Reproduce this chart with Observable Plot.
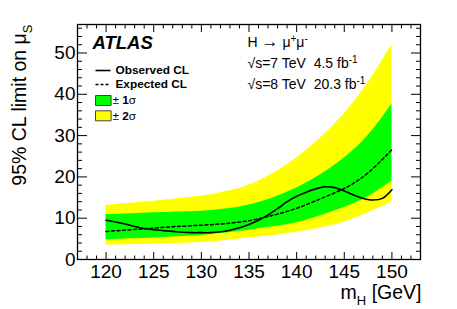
<!DOCTYPE html>
<html><head><meta charset="utf-8">
<script src="https://cdn.jsdelivr.net/npm/d3@7"></script>
<script src="https://cdn.jsdelivr.net/npm/@observablehq/plot@0.6"></script>
<style>body{margin:0;background:#fff} svg{display:block}</style>
</head><body><div id="chart"></div>
<script>
// Band mass points (GeV) and limits
const massBand = [120, 122.5, 125, 127.5, 130, 132.5, 135, 137.5, 140, 142.5, 145, 147.5, 150];
const expected = [6.8, 7.2, 7.6, 8.0, 8.3, 8.7, 9.4, 10.7, 12.4, 14.7, 17.2, 21.0, 26.6];
const plus1    = [10.9, 11.1, 11.3, 11.5, 11.7, 12.2, 13.2, 14.9, 17.3, 20.5, 24.6, 30.0, 37.6];
const minus1   = [4.8, 5.0, 5.2, 5.5, 5.8, 6.4, 7.1, 7.9, 8.9, 10.6, 12.6, 15.2, 19.0];
const plus2    = [13.1, 13.6, 14.1, 14.7, 15.3, 16.4, 18.0, 20.8, 24.6, 29.4, 35.3, 42.8, 52.0];
const minus2   = [3.5, 3.6, 3.7, 3.9, 4.1, 4.6, 5.2, 5.8, 6.6, 7.6, 9.1, 11.3, 14.0];

// Observed limit
const massObs  = [120,121,122,123,124,125,126,127,128,129,130,131,132,133,134,135,136,137,138,139,140,141,142,143,144,145,146,147,148,149,150];
const observed = [9.5, 9.1, 8.6, 8.0, 7.5, 7.2, 7.0, 6.8, 6.6, 6.5, 6.5, 6.5, 6.7, 7.1, 7.7, 8.5, 9.5, 10.8, 12.3, 14.0, 15.3, 16.3, 17.1, 17.6, 17.4, 16.6, 15.6, 14.8, 14.4, 14.8, 16.9];

// Axis ticks
const xMajor = [120, 125, 130, 135, 140, 145, 150];
const xMinor = [117,118,119,121,122,123,124,126,127,128,129,131,132,133,134,136,137,138,139,141,142,143,144,146,147,148,149,151,152,153];
const yMajor = [0, 10, 20, 30, 40, 50];
const yMinor = [2,4,6,8,12,14,16,18,22,24,26,28,32,34,36,38,42,44,46,48,52,54,56];

// Texts
const yTitle = "95% CL limit on μS";
const xTitle = "mH [GeV]";
const atlas = "ATLAS";
const legendLines = ["Observed CL", "Expected CL"];
const legendBoxes = ["± 1σ", "± 2σ"];
const info = ["H → μ+μ-", "√s=7 TeV\u00a0\u00a04.5 fb-1", "√s=8 TeV\u00a0\u00a020.3 fb-1"];

const bands = massBand.map((m, i) => ({m, exp: expected[i], lo1: minus1[i], hi1: plus1[i], lo2: minus2[i], hi2: plus2[i]}));
const obsData = massObs.map((m, i) => ({m, v: observed[i]}));

const font = "'Liberation Sans', Arial, Helvetica, sans-serif";
const lineSym = {draw(ctx) { ctx.moveTo(-7.5, 0); ctx.lineTo(7.5, 0); }};
const boxSym = {draw(ctx) { ctx.rect(-7.8, -5, 15.6, 10); }};
const noText = () => "";

const plot = Plot.plot({
  width: 457, height: 309,
  marginLeft: 77, marginRight: 37, marginTop: 24, marginBottom: 50,
  style: {fontFamily: font, background: "#fff", color: "#000"},
  x: {domain: [117, 153], label: null},
  y: {domain: [0, 56.9], label: null},
  marks: [
    Plot.areaY(bands, {x: "m", y1: "lo2", y2: "hi2", fill: "#ffff00", curve: "natural"}),
    Plot.areaY(bands, {x: "m", y1: "lo1", y2: "hi1", fill: "#00ff00", curve: "natural"}),
    Plot.line(bands, {x: "m", y: "exp", stroke: "#000", strokeWidth: 1.5, strokeDasharray: "3,2.5", curve: "natural"}),
    Plot.line(obsData, {x: "m", y: "v", stroke: "#000", strokeWidth: 1.6, curve: "catmull-rom"}),
    // inward ticks
    Plot.axisX({anchor: "bottom", ticks: xMajor, tickSize: -7, tickFormat: noText, label: null}),
    Plot.axisX({anchor: "bottom", ticks: xMinor, tickSize: -3.5, tickFormat: noText, label: null}),
    Plot.axisX({anchor: "top", ticks: xMajor, tickSize: -7, tickFormat: noText, label: null}),
    Plot.axisX({anchor: "top", ticks: xMinor, tickSize: -3.5, tickFormat: noText, label: null}),
    Plot.axisY({anchor: "left", ticks: yMajor, tickSize: -10, tickFormat: noText, label: null}),
    Plot.axisY({anchor: "left", ticks: yMinor, tickSize: -5, tickFormat: noText, label: null}),
    Plot.axisY({anchor: "right", ticks: yMajor, tickSize: -10, tickFormat: noText, label: null}),
    Plot.axisY({anchor: "right", ticks: yMinor, tickSize: -5, tickFormat: noText, label: null}),
    // tick labels
    Plot.axisX({anchor: "bottom", ticks: xMajor, tickSize: 0, tickPadding: 5, fontSize: 19, label: null, tickFormat: d => String(d)}),
    Plot.axisY({anchor: "left", ticks: yMajor, tickSize: 0, tickPadding: 2, fontSize: 19, label: null, tickFormat: d => String(d)}),
    Plot.frame({stroke: "#000", strokeWidth: 1.3}),
    // titles
    Plot.text([yTitle], {frameAnchor: "top-left", rotate: -90, textAnchor: "end", lineAnchor: "bottom", dx: -52, dy: 0, fontSize: 19.5}),
    Plot.text([xTitle], {frameAnchor: "bottom-right", textAnchor: "end", lineAnchor: "bottom", dx: 1, dy: 39, fontSize: 19.5}),
    // ATLAS label
    Plot.text([atlas], {frameAnchor: "top-left", textAnchor: "start", lineAnchor: "bottom", dx: 15, dy: 24, fontSize: 18.5, fontWeight: "bold", fontStyle: "italic"}),
    // legend
    Plot.dot([0], {frameAnchor: "top-left", dx: 25.5, dy: 46, symbol: lineSym, fill: "none", stroke: "#000", strokeWidth: 1.6}),
    Plot.dot([0], {frameAnchor: "top-left", dx: 25.5, dy: 60, symbol: lineSym, fill: "none", stroke: "#000", strokeWidth: 1.5, strokeDasharray: "3,2"}),
    Plot.dot([0], {frameAnchor: "top-left", dx: 25.8, dy: 76, symbol: boxSym, fill: "#00ff00", stroke: "#444", strokeWidth: 1}),
    Plot.dot([0], {frameAnchor: "top-left", dx: 25.8, dy: 91.3, symbol: boxSym, fill: "#ffff00", stroke: "#444", strokeWidth: 1}),
    Plot.text([legendLines[0]], {frameAnchor: "top-left", textAnchor: "start", lineAnchor: "middle", dx: 38, dy: 46, fontSize: 11.8, fontWeight: "bold"}),
    Plot.text([legendLines[1]], {frameAnchor: "top-left", textAnchor: "start", lineAnchor: "middle", dx: 38, dy: 60, fontSize: 11.8, fontWeight: "bold"}),
    Plot.text([legendBoxes[0]], {frameAnchor: "top-left", textAnchor: "start", lineAnchor: "middle", dx: 35, dy: 76, fontSize: 11.8}),
    Plot.text([legendBoxes[1]], {frameAnchor: "top-left", textAnchor: "start", lineAnchor: "middle", dx: 35, dy: 91.3, fontSize: 11.8}),
    // info text
    Plot.text([info[0]], {frameAnchor: "top-left", textAnchor: "start", lineAnchor: "bottom", dx: 170, dy: 22, fontSize: 14}),
    Plot.text([info[1]], {frameAnchor: "top-left", textAnchor: "start", lineAnchor: "bottom", dx: 170, dy: 43, fontSize: 14}),
    Plot.text([info[2]], {frameAnchor: "top-left", textAnchor: "start", lineAnchor: "bottom", dx: 170, dy: 64, fontSize: 14})
  ]
});
document.getElementById("chart").append(plot);

// rich text: sub/superscripts and bold digits
function rich(content, parts) {
  plot.querySelectorAll("text").forEach(t => {
    if (t.textContent !== content) return;
    t.textContent = "";
    const ns = "http://www.w3.org/2000/svg";
    for (const p of parts) {
      const s = document.createElementNS(ns, "tspan");
      s.textContent = p.t;
      if (p.dy != null) s.setAttribute("dy", p.dy);
      if (p.fs != null) s.setAttribute("font-size", p.fs);
      if (p.fw != null) s.setAttribute("font-weight", p.fw);
      t.appendChild(s);
    }
  });
}
rich(yTitle, [{t: "95% CL limit on μ"}, {t: "S", dy: 6, fs: 13}]);
rich(xTitle, [{t: "m"}, {t: "H", dy: 6, fs: 13}, {t: " [GeV]", dy: -6}]);
rich(info[0], [{t: "H "}, {t: "→", fs: 17}, {t: " μ"}, {t: "+", dy: -5, fs: 10}, {t: "μ", dy: 5}, {t: "-", dy: -5, fs: 10}]);
rich(info[1], [{t: "√s=7 TeV\u00a0\u00a04.5 fb"}, {t: "-1", dy: -5, fs: 10}]);
rich(info[2], [{t: "√s=8 TeV\u00a0\u00a020.3 fb"}, {t: "-1", dy: -5, fs: 10}]);
rich(legendBoxes[0], [{t: "± "}, {t: "1", fw: "bold"}, {t: "σ"}]);
rich(legendBoxes[1], [{t: "± "}, {t: "2", fw: "bold"}, {t: "σ"}]);
</script>
</body></html>
